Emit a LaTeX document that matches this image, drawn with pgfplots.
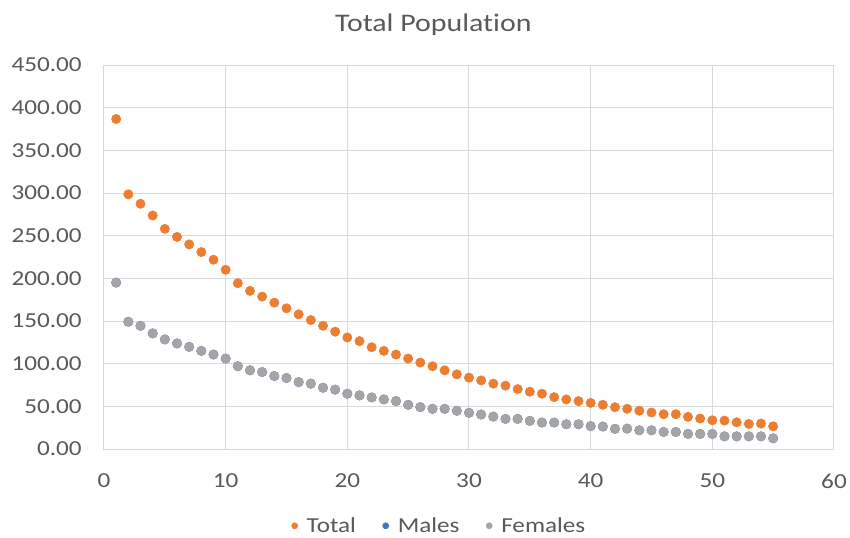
\documentclass[border=0pt]{standalone}
\usepackage{fontspec}
\setmainfont[FakeStretch=1.18, Ligatures=NoCommon]{Carlito}
\usepackage{pgfplots}
\usepackage{pgfplotstable}
\pgfplotsset{compat=1.18}

\definecolor{tot}{HTML}{ED7D31}
\definecolor{mal}{HTML}{4472C4}
\definecolor{fem}{HTML}{A5A5A5}
\definecolor{gridc}{HTML}{D9D9D9}
\definecolor{txt}{HTML}{595959}

% age, total, males, females
\pgfplotstableread{
x total males females
1 386.7 195.0 195.0
2 298.4 149.1 149.1
3 287.4 144.4 144.4
4 273.6 135.5 135.5
5 258.0 128.4 128.4
6 248.5 123.7 123.7
7 239.8 119.7 119.7
8 230.8 115.0 115.0
9 221.8 110.7 110.7
10 210.0 106.0 106.0
11 194.3 97.0 97.0
12 185.3 92.2 92.2
13 178.6 90.2 90.2
14 171.5 85.5 85.5
15 164.9 83.2 83.2
16 157.8 78.4 78.4
17 151.1 76.6 76.6
18 144.4 71.8 71.8
19 137.5 69.6 69.6
20 130.7 64.8 64.8
21 126.4 62.8 62.8
22 119.3 60.4 60.4
23 115.0 58.1 58.1
24 110.7 56.1 56.1
25 106.0 51.8 51.8
26 101.3 49.0 49.0
27 97.0 47.1 47.1
28 92.2 47.1 47.1
29 87.5 44.8 44.8
30 83.6 42.4 42.4
31 80.4 40.4 40.4
32 76.6 38.0 38.0
33 74.2 35.3 35.3
34 70.2 35.3 35.3
35 67.1 33.0 33.0
36 64.8 31.0 31.0
37 60.8 31.0 31.0
38 58.1 29.0 29.0
39 56.1 29.0 29.0
40 54.0 26.8 26.8
41 51.8 26.3 26.3
42 49.0 23.6 23.6
43 47.1 23.9 23.9
44 44.8 21.9 21.9
45 42.8 21.9 21.9
46 40.8 20.0 20.0
47 40.8 20.0 20.0
48 37.7 17.7 17.7
49 35.7 17.7 17.7
50 33.7 17.7 17.7
51 33.3 14.8 14.8
52 31.3 14.8 14.8
53 29.4 14.8 14.8
54 29.8 14.8 14.8
55 26.6 12.5 12.5
}\popdata

\begin{document}
\begin{tikzpicture}
\useasboundingbox (-78pt,-66pt) rectangle (559.5pt,336.75pt);
\begin{axis}[
  at={(0,0)}, anchor=south west,
  scale only axis,
  width=547.5pt, height=288pt,
  xmin=0, xmax=60, ymin=0, ymax=450,
  xtick={0,10,...,60},
  ytick={0,50,...,450},
  grid=major,
  major grid style={draw=gridc, line width=0.75pt},
  axis line style={draw=gridc, line width=0.75pt},
  major tick length=0pt,
  tick label style={font=\fontsize{16}{18}\selectfont, text=txt},
  /pgf/number format/assume math mode=true,
  y tick label style={/pgf/number format/fixed, /pgf/number format/fixed zerofill,
    /pgf/number format/precision=2, inner sep=0pt, xshift=-16.5pt},
  x tick label style={inner sep=0pt, yshift=-18.5pt},
  legend columns=3,
  legend style={draw=none, fill=none, at={(0.46,-0.2)}, anchor=center,
    font=\fontsize{16}{18}\selectfont, text=txt,
    /tikz/every even column/.append style={column sep=18pt}},
  legend image code/.code={\draw[#1,mark size=2.3pt] plot coordinates {(0cm,0cm)};
    \path (0.24cm,0cm);},
  every axis plot/.append style={only marks, mark=*, mark size=3.5pt},
]
\addplot[color=tot, mark options={draw=none, fill=tot}] table[x=x, y=total] {\popdata};
\addlegendentry{Total}
\addplot[color=mal, mark options={draw=none, fill=mal}] table[x=x, y=males] {\popdata};
\addlegendentry{Males}
\addplot[color=fem, mark options={draw=none, fill=fem}] table[x=x, y=females] {\popdata};
\addlegendentry{Females}
\end{axis}
\node[text=txt, font=\fontsize{19}{22}\selectfont] at (247pt,318pt) {Total Population};
\end{tikzpicture}
\end{document}
